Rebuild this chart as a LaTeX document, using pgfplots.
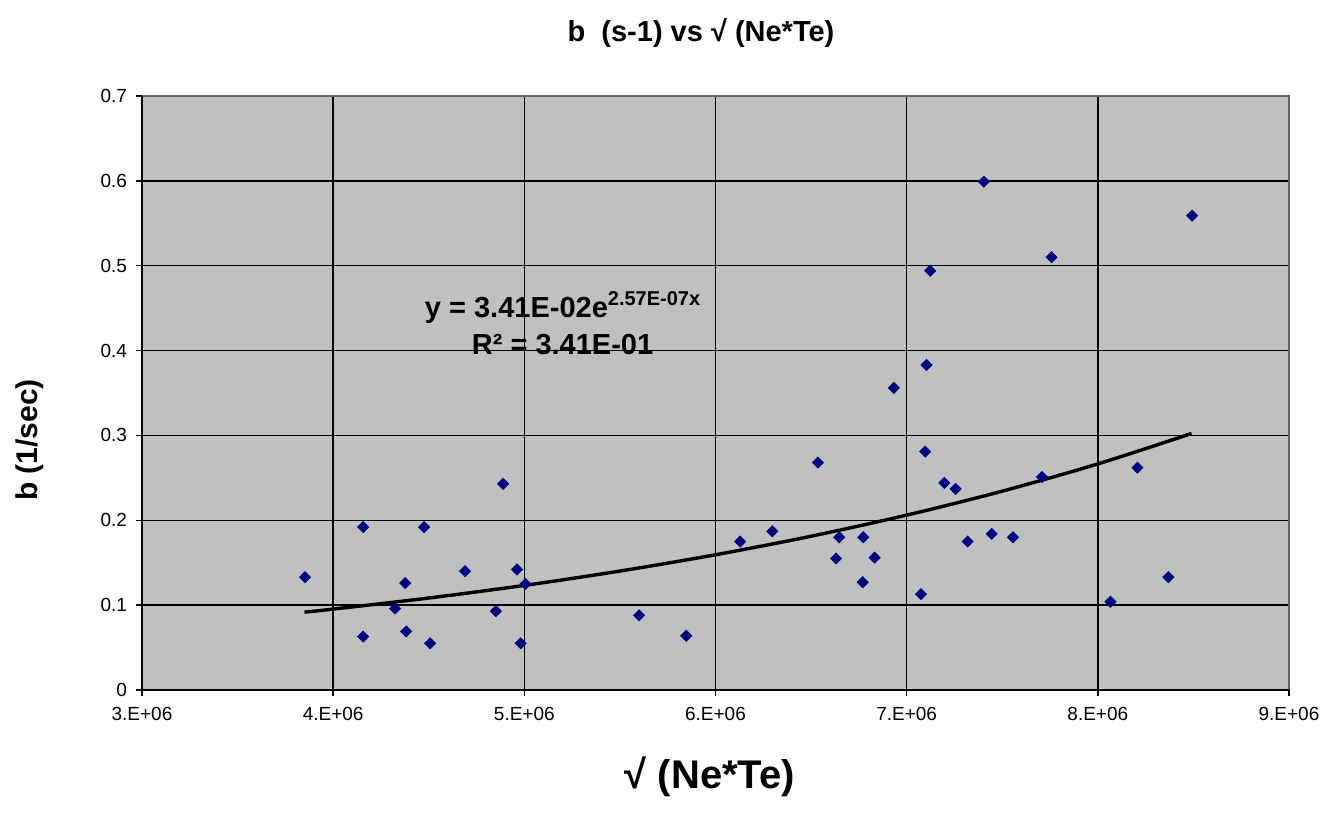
\documentclass[border=0pt]{standalone}
\usepackage{fontspec}
\setmainfont{Liberation Sans}
\usepackage{pgfplots}
\pgfplotsset{compat=1.18}
\definecolor{plotbg}{RGB}{192,192,192}
\definecolor{navymark}{RGB}{0,0,128}
\definecolor{frame}{RGB}{100,100,100}
\begin{document}
\begin{tikzpicture}
\path[use as bounding box] (-71pt,-67.5pt) rectangle (592.5pt,345pt);
\begin{axis}[
  at={(0,0)}, anchor=south west,
  scale only axis,
  width=573.5pt, height=297pt,
  xmin=3e6, xmax=9e6, ymin=0, ymax=0.7,
  scaled x ticks=false, scaled y ticks=false,
  axis background/.style={fill=plotbg},
  axis line style={draw=none},
  grid=major,
  major grid style={black, line width=0.75pt},
  xtick={3e6,4e6,5e6,6e6,7e6,8e6,9e6},
  xticklabels={3.E+06,4.E+06,5.E+06,6.E+06,7.E+06,8.E+06,9.E+06},
  ytick={0,0.1,0.2,0.3,0.4,0.5,0.6,0.7},
  yticklabels={0,0.1,0.2,0.3,0.4,0.5,0.6,0.7},
  tick style={black, line width=0.75pt},
  tick align=outside,
  major tick length=3pt,
  xtick pos=bottom, ytick pos=left,
  tick label style={font=\fontsize{9.5}{11}\selectfont},
  xticklabel style={yshift=-2pt},
  yticklabel style={xshift=-1pt},
  clip=false,
]
\addplot[only marks, mark=square*, mark size=1.95pt,
  mark options={rotate=45, fill=navymark, draw=navymark}] coordinates {
(3.853e6,0.133) (4.157e6,0.192) (4.157e6,0.063) (4.324e6,0.096)
(4.377e6,0.126) (4.382e6,0.069) (4.476e6,0.192) (4.507e6,0.055)
(4.690e6,0.140) (4.851e6,0.093) (4.889e6,0.243) (4.962e6,0.142)
(4.981e6,0.055) (5.006e6,0.125) (5.600e6,0.088) (5.847e6,0.064)
(6.129e6,0.175) (6.297e6,0.187) (6.536e6,0.268) (6.647e6,0.180)
(6.631e6,0.155) (6.773e6,0.180) (6.832e6,0.156) (6.770e6,0.127)
(6.933e6,0.356) (7.075e6,0.113) (7.097e6,0.281) (7.104e6,0.383)
(7.123e6,0.494) (7.197e6,0.244) (7.256e6,0.237) (7.319e6,0.175)
(7.404e6,0.599) (7.445e6,0.184) (7.556e6,0.180) (7.708e6,0.251)
(7.758e6,0.510) (8.066e6,0.104) (8.207e6,0.262) (8.369e6,0.133)
(8.493e6,0.559)
};
\addplot[black, line width=1.7pt, smooth] coordinates {
(3.85e6,0.09172) (4.0e6,0.09533) (4.5e6,0.10840) (5.0e6,0.12326)
(5.5e6,0.14016) (6.0e6,0.15938) (6.5e6,0.18123) (7.0e6,0.20608)
(7.5e6,0.23433) (8.0e6,0.26645) (8.49e6,0.30225)
};
\draw[frame, line width=1pt] (rel axis cs:0,1) -- (rel axis cs:1,1) -- (rel axis cs:1,0);
\draw[black, line width=1pt] (rel axis cs:0,1) -- (rel axis cs:0,0) -- (rel axis cs:1,0);
\node[font=\bfseries\fontsize{14.5}{16}\selectfont] at (axis cs:5.2e6,0.451) {y = 3.41E-02e\raisebox{0.75ex}{\fontsize{10}{11}\selectfont 2.57E-07x}};
\node[font=\bfseries\fontsize{14.5}{16}\selectfont] at (axis cs:5.2e6,0.407) {R² = 3.41E-01};
\end{axis}
\node[font=\bfseries\fontsize{14.5}{16}\selectfont] at (279.5pt,328.5pt) {b\ \ (s-1) vs √ (Ne*Te)};
\node[font=\bfseries\fontsize{15}{17}\selectfont, rotate=90] at (-56pt,125pt) {b (1/sec)};
\node[font=\bfseries\fontsize{20}{22}\selectfont] at (284pt,-43.5pt) {√ (Ne*Te)};
\end{tikzpicture}
\end{document}
